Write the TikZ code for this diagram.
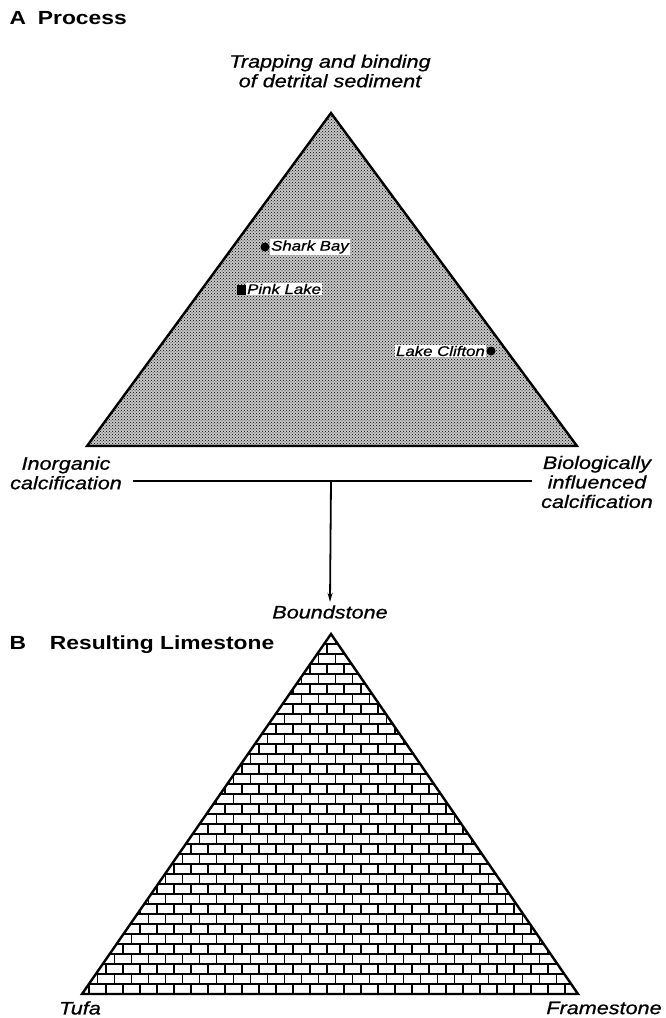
\documentclass[tikz,border=0pt]{standalone}
\usepackage{fontspec}
\setmainfont{Liberation Sans}[FakeStretch=1.2, ItalicFeatures={FakeBold=0.8}]
\usepackage{tikz}
\usetikzlibrary{
    arrows.meta,
    positioning,
    patterns
}
\tikzset{
  tri/.style   = {line width=2.4pt, line join=miter},
  brick/.style = {line width=1.1pt},
  conn/.style  = {line width=1.8pt}
}

\begin{document}
\begin{tikzpicture}[x=1pt, y=-1pt,
    lab/.style={font=\fontsize{18}{19.5}\selectfont\itshape, align=center},
    ttl/.style={font=\fontsize{19}{21}\selectfont\bfseries, anchor=west},
    plab/.style={font=\fontsize{14}{16}\selectfont\itshape, fill=white, inner sep=1pt},
    arr/.style={-{Stealth[length=9pt, width=5pt]}, line width=1.8pt}
  ]
    \useasboundingbox (0,0) rectangle (665,1018);
    % A: process triangle
    \node[ttl](ta) at (6,18) {A\hspace{12pt}Process};
    \coordinate (topA) at (331,113);
    \coordinate (leftA) at (87,446);
    \coordinate (rightA) at (577,446);
    \fill[black!22] (topA) -- (leftA) -- (rightA) -- cycle;
    \fill[pattern=crosshatch dots] (topA) -- (leftA) -- (rightA) -- cycle;
    \draw[tri] (topA) -- (leftA) -- (rightA) -- cycle;
    \node[lab](trap) at (330,71) {Trapping and binding\\of detrital sediment};
    \node[lab](inorg) at (66,473) {Inorganic\\calcification};
    \node[lab](biol) at (597,482) {Biologically\\influenced\\calcification};

    % sample points
    \fill (265,247) circle (4.5pt) coordinate (sb);
    \fill (236.5,284.5) rectangle (246.5,294.5);
    \coordinate (pl) at (242,289);
    \fill (491,351) circle (4.5pt) coordinate (lc);
    \node[plab, right=5pt of sb](sbl) {Shark Bay};
    \node[plab, right=4pt of pl](pll) {Pink Lake};
    \node[plab, left=5pt of lc](lcl) {Lake Clifton};

    % link to B
    \coordinate (split) at (331,481);
    \draw[conn, shorten <=8pt, shorten >=6pt] (inorg.east |- split) -- (biol.west |- split);
    \node[lab](bound) at (330,612) {Boundstone};
    \draw[arr] (split) -- (bound.north);

    % B: resulting limestone
    \node[ttl](tb) at (6,645) {B\hspace{24pt}Resulting Limestone};
    \coordinate (topB) at (331,634);
    \coordinate (leftB) at (82,994);
    \coordinate (rightB) at (578,994);
    \begin{scope}
      \clip (topB) -- (leftB) -- (rightB) -- cycle;
      \foreach \r in {0,...,36}{
        \pgfmathsetmacro\yy{994-10*\r}
        \pgfmathsetmacro\off{mod(\r,2)*8.5}
        \draw[brick] (70,\yy) -- (590,\yy);
        \foreach \k in {0,...,30}
          \draw[brick] ({72+\off+17*\k},\yy) -- ++(0,-10);
      }
    \end{scope}
    \draw[tri] (topB) -- (leftB) -- (rightB) -- cycle;
    \node[lab](tufa) at (80,1008) {Tufa};
    \node[lab](frame) at (604,1008) {Framestone};
  \end{tikzpicture}
\end{document}
